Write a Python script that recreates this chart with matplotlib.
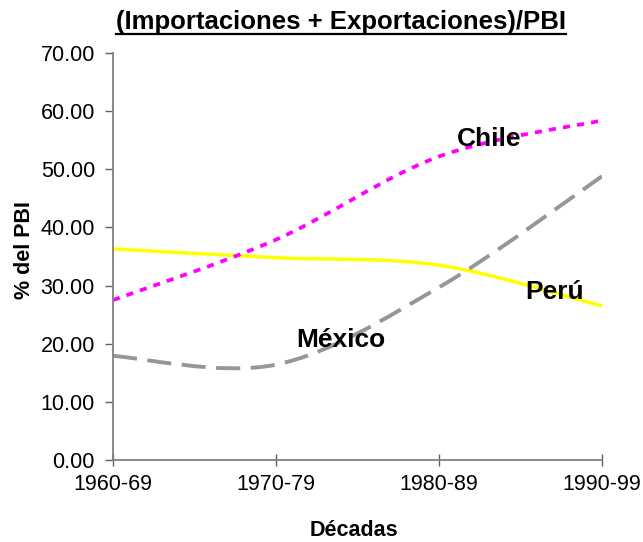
import numpy as np
import matplotlib
matplotlib.use("Agg")
import matplotlib.pyplot as plt
from matplotlib.path import Path
from matplotlib.patches import PathPatch
from matplotlib.lines import Line2D

plt.rcParams['font.family'] = ['Liberation Sans', 'DejaVu Sans']

decadas = ['1960-69', '1970-79', '1980-89', '1990-99']
chile = [27.5, 37.9, 52.2, 58.4]
peru = [36.3, 34.8, 33.5, 26.5]
mexico = [17.9, 16.4, 29.7, 48.8]


def smooth_path(xs, ys):
    # bezier smoothing like excel "smoothed line"
    pts = np.column_stack([xs, ys]).astype(float)
    n = len(pts)
    verts = [pts[0]]
    codes = [Path.MOVETO]
    for i in range(n - 1):
        p0 = pts[i - 1] if i > 0 else pts[i]
        p1 = pts[i]
        p2 = pts[i + 1]
        p3 = pts[i + 2] if i + 2 < n else pts[i + 1]
        verts += [p1 + (p2 - p0) / 6, p2 - (p3 - p1) / 6, p2]
        codes += [Path.CURVE4] * 3
    return Path(verts, codes)


fig = plt.figure(figsize=(6.43, 5.42), dpi=100)
ax = fig.add_axes([113 / 643, 1 - 460 / 542, 489 / 643, 407 / 542])

x = np.arange(len(decadas))
ax.add_patch(PathPatch(smooth_path(x, peru), fill=False, edgecolor='#FFFF00', lw=2.5))
ax.add_patch(PathPatch(smooth_path(x, mexico), fill=False, edgecolor='#969696', lw=2.8,
                       linestyle=(0, (6.2, 2.7))))
ax.add_patch(PathPatch(smooth_path(x, chile), fill=False, edgecolor='#FF00FF', lw=2.7,
                       linestyle=(0, (1.9, 1.9))))

ax.set_xlim(0, 3)
ax.set_ylim(0, 70)
ax.set_xticks(x)
ax.set_xticklabels(decadas)
ax.set_yticks(np.arange(0, 71, 10))
ax.set_yticklabels(['%.2f' % v for v in np.arange(0, 71, 10)])
for s in ['top', 'right']:
    ax.spines[s].set_visible(False)
for s in ['left', 'bottom']:
    ax.spines[s].set_color('#808080')
    ax.spines[s].set_linewidth(1.3)
ax.tick_params(axis='x', direction='inout', length=8, width=1, color='#606060',
               labelsize=15.5, pad=6)
ax.tick_params(axis='y', direction='out', length=6, width=1, color='#606060',
               labelsize=15.5, pad=7)

ax.text(2.31, 55.2, 'Chile', fontsize=19, fontweight='bold', ha='center', va='center')
ax.text(2.71, 28.9, 'Perú', fontsize=19, fontweight='bold', ha='center', va='center')
ax.text(1.40, 20.6, 'México', fontsize=19, fontweight='bold', ha='center', va='center')

fig.text(354 / 643, 1 - 530 / 542, 'Décadas', fontsize=15.5, fontweight='bold',
         ha='center', va='center')
fig.text(25 / 643, 1 - 250 / 542, '% del PBI', fontsize=15.5, fontweight='bold',
         ha='center', va='center', rotation=90)
title = fig.text(341 / 643, 1 - 29 / 542, '(Importaciones + Exportaciones)/PBI',
                 fontsize=18.5, fontweight='bold', ha='center', va='baseline')

# underline the title
fig.canvas.draw()
bb = title.get_window_extent()
uy = (542 - 34) / 542
fig.add_artist(Line2D([bb.x0 / 643, bb.x1 / 643], [uy, uy], color='black', lw=1.6,
                      transform=fig.transFigure))

fig.savefig('out.png', dpi=100)
